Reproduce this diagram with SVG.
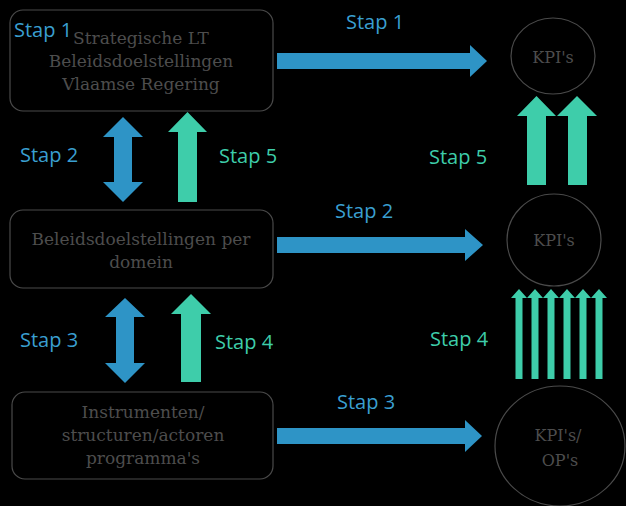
<svg xmlns="http://www.w3.org/2000/svg" width="626" height="506" viewBox="0 0 626 506">
<style>
.box{fill:#000;stroke:#4a4a4a;stroke-width:1.2}
.circ{fill:#000;stroke:#4a4a4a;stroke-width:1.2}
.nt{font-family:"DejaVu Serif",serif;font-size:17px;fill:#4d4d4d;text-anchor:middle}
.kt{font-family:"DejaVu Serif",serif;font-size:16px;fill:#4d4d4d;text-anchor:middle}
.lb{font-family:"Open Sans",sans-serif;font-size:20px}
.blue{fill:#2e94c6}
.green{fill:#3ecdaa}
</style>
<rect width="626" height="506" fill="#000"/>
<g id="connectors">
<polygon class="blue" points="277,53 470,53 470,45 487,61 470,77 470,69 277,69"/>
<polygon class="blue" points="277,237 465,237 465,229 483,245 465,261 465,253 277,253"/>
<polygon class="blue" points="277,428 465,428 465,420 482,436 465,452 465,444 277,444"/>
<polygon class="blue" points="123,117 143,137 132,137 132,182 143,182 123,202 103,182 114,182 114,137 103,137"/>
<polygon class="green" points="187.5,112 207,132 197,132 197,202 178,202 178,132 168,132"/>
<polygon class="blue" points="125,298 145,317 134,317 134,363 145,363 125,383 105,363 116,363 116,317 105,317"/>
<polygon class="green" points="191,294 211,314 201,314 201,382 181,382 181,314 171,314"/>
<polygon class="green" points="536.5,96 556,116 546,116 546,185 527,185 527,116 517,116"/>
<polygon class="green" points="577,96 597,116 587,116 587,185 568,185 568,116 557,116"/>
<g class="green">
<polygon points="519,289 527,298 522.5,298 522.5,379 515.5,379 515.5,298 511,298"/>
<polygon points="535,289 543,298 538.5,298 538.5,379 531.5,379 531.5,298 527,298"/>
<polygon points="551,289 559,298 554.5,298 554.5,379 547.5,379 547.5,298 543,298"/>
<polygon points="567,289 575,298 570.5,298 570.5,379 563.5,379 563.5,298 559,298"/>
<polygon points="583,289 591,298 586.5,298 586.5,379 579.5,379 579.5,298 575,298"/>
<polygon points="599,289 607,298 602.5,298 602.5,379 595.5,379 595.5,298 591,298"/>
</g>
<text class="lb" x="346" y="29" fill="#3a9fd0">Stap 1</text>
<text class="lb" x="335" y="218" fill="#3a9fd0">Stap 2</text>
<text class="lb" x="337" y="409" fill="#3a9fd0">Stap 3</text>
<text class="lb" x="20" y="162" fill="#3a9fd0">Stap 2</text>
<text class="lb" x="20" y="347" fill="#3a9fd0">Stap 3</text>
<text class="lb" x="219" y="163" fill="#3ecdaa">Stap 5</text>
<text class="lb" x="215" y="349" fill="#3ecdaa">Stap 4</text>
<text class="lb" x="429" y="164" fill="#3ecdaa">Stap 5</text>
<text class="lb" x="430" y="346" fill="#3ecdaa">Stap 4</text>
</g>
<g id="box1">
<rect class="box" x="10" y="10" width="263" height="101" rx="13"/>
<text class="nt" x="141" y="44">Strategische LT</text>
<text class="nt" x="141" y="67">Beleidsdoelstellingen</text>
<text class="nt" x="141" y="90">Vlaamse Regering</text>
<text class="lb" x="14" y="37" fill="#3a9fd0">Stap 1</text>
</g>
<g id="box2">
<rect class="box" x="10" y="210" width="263" height="78" rx="13"/>
<text class="nt" x="141" y="245">Beleidsdoelstellingen per</text>
<text class="nt" x="141" y="268">domein</text>
</g>
<g id="box3">
<rect class="box" x="12" y="392" width="261" height="87" rx="13"/>
<text class="nt" x="143" y="418">Instrumenten/</text>
<text class="nt" x="143" y="441">structuren/actoren</text>
<text class="nt" x="143" y="464">programma's</text>
</g>
<g id="kpi1">
<ellipse class="circ" cx="553" cy="56" rx="42" ry="38"/>
<text class="kt" x="553" y="63">KPI's</text>
</g>
<g id="kpi2">
<ellipse class="circ" cx="554" cy="240" rx="47" ry="46"/>
<text class="kt" x="554" y="246">KPI's</text>
</g>
<g id="kpi3">
<ellipse class="circ" cx="560" cy="446" rx="65" ry="60"/>
<text class="kt" x="558" y="441">KPI's/</text>
<text class="kt" x="560" y="466">OP's</text>
</g>
</svg>
